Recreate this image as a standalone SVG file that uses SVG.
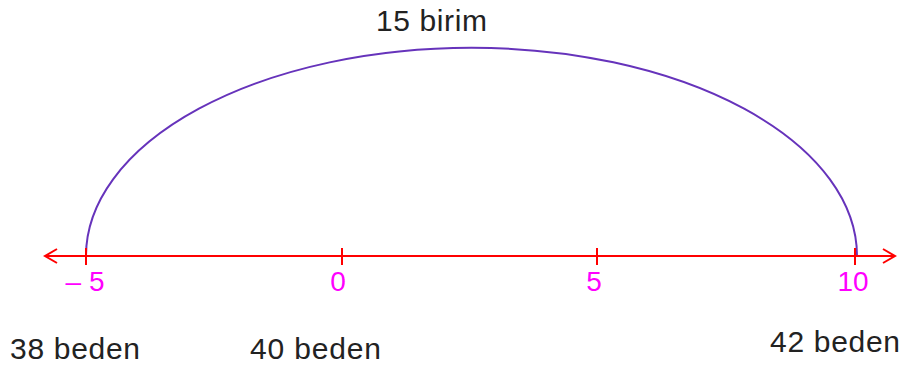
<svg xmlns="http://www.w3.org/2000/svg" width="910" height="367" viewBox="0 0 910 367">
<style>
.ax{stroke:#FF0000;stroke-width:2;fill:none}
.num{fill:#FF00FF;font-family:"Liberation Sans",Arial,sans-serif;font-size:28px;text-anchor:middle}
.lbl{fill:#222222;font-family:"Liberation Sans",Arial,sans-serif;font-size:30px}
</style>
<rect width="910" height="367" fill="#FFFFFF"/>
<g id="connectors">
<path id="arc" d="M86,256 A385,208 0 0 1 857,256" stroke="#6633BB" stroke-width="2" fill="none"/>
</g>
<g id="axis">
<line class="ax" x1="45" y1="256" x2="895" y2="256"/>
<polyline class="ax" points="57,249 45,256 57,263"/>
<polyline class="ax" points="883,249 895,256 883,263"/>
<line class="ax" x1="86" y1="248" x2="86" y2="265"/>
<line class="ax" x1="342" y1="248" x2="342" y2="265"/>
<line class="ax" x1="597" y1="248" x2="597" y2="265"/>
<line class="ax" x1="855" y1="248" x2="855" y2="265"/>
</g>
<g id="ticks-labels">
<text class="num" x="85" y="291">– 5</text>
<text class="num" x="338" y="291">0</text>
<text class="num" x="594" y="291">5</text>
<text class="num" x="853" y="291">10</text>
</g>
<g id="title"><text class="lbl" x="376" y="31" textLength="111">15 birim</text></g>
<g id="s38"><text class="lbl" x="10" y="359" textLength="130">38 beden</text></g>
<g id="s40"><text class="lbl" x="250" y="359" textLength="131">40 beden</text></g>
<g id="s42"><text class="lbl" x="770" y="352" textLength="130">42 beden</text></g>
</svg>
